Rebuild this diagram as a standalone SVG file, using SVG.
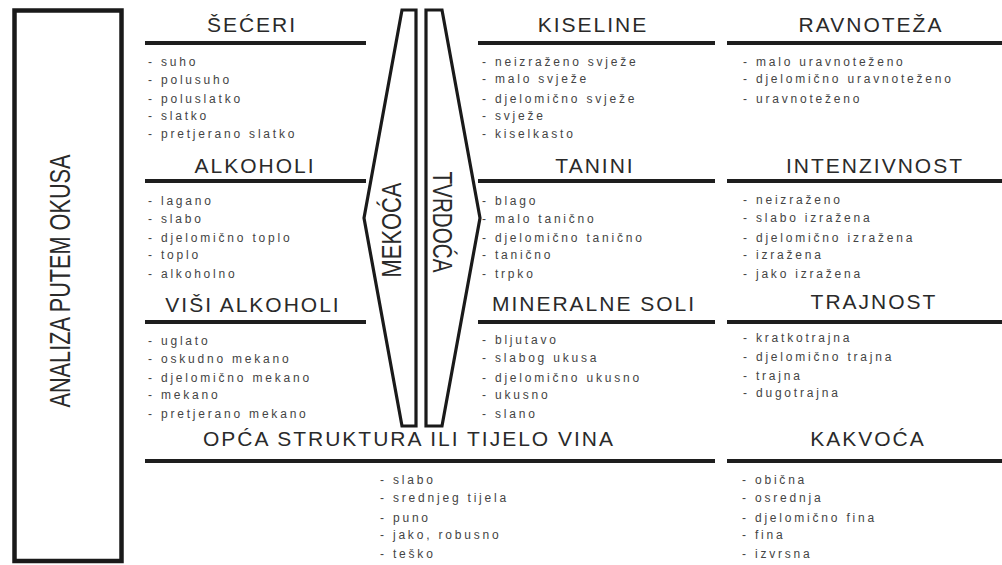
<svg xmlns="http://www.w3.org/2000/svg" width="1002" height="565" viewBox="0 0 1002 565">
<style>
.bg{fill:#fff}
.frame{fill:none;stroke:#1a1a1a;stroke-width:4.5}
.shape{fill:none;stroke:#1a1a1a;stroke-width:3.2;stroke-linejoin:miter}
.rule{stroke:#1e1e1e;stroke-width:4}
.h{font-family:"Liberation Sans",Arial,sans-serif;font-size:21px;letter-spacing:2px;fill:#2a2a2a;text-anchor:middle}
.li{font-family:"Liberation Sans",Arial,sans-serif;font-size:12px;letter-spacing:2.8px;fill:#444}
.v{font-family:"Liberation Sans",Arial,sans-serif;fill:#2a2a2a;text-anchor:middle}
</style>
<rect class="bg" x="0" y="0" width="1002" height="565"/>

<g id="analiza">
<rect class="frame" x="14.5" y="10.5" width="107" height="550.5"/>
<text class="v" font-size="29" transform="translate(70,281) rotate(-90)" textLength="253" lengthAdjust="spacingAndGlyphs">ANALIZA PUTEM OKUSA</text>
</g>

<g id="mekoca">
<path class="shape" d="M402,10 L416,10 L416,426 L402,426 L364,218 Z"/>
<text class="v" font-size="27" transform="translate(401,230) rotate(-90)" textLength="95" lengthAdjust="spacingAndGlyphs">MEKOĆA</text>
</g>

<g id="tvrdoca">
<path class="shape" d="M426,10 L442,10 L480,218 L442,426 L426,426 Z"/>
<text class="v" font-size="27" transform="translate(433,222) rotate(90)" textLength="101" lengthAdjust="spacingAndGlyphs">TVRDOĆA</text>
</g>

<g id="seceri">
<text class="h" x="252" y="32">ŠEĆERI</text>
<line class="rule" x1="145" y1="43" x2="366" y2="43"/>
<text class="li" x="148" y="66">- suho</text>
<text class="li" x="148" y="84">- polusuho</text>
<text class="li" x="148" y="103">- poluslatko</text>
<text class="li" x="148" y="120">- slatko</text>
<text class="li" x="148" y="138">- pretjerano slatko</text>
</g>

<g id="kiseline">
<text class="h" x="593" y="32">KISELINE</text>
<line class="rule" x1="478" y1="43" x2="715" y2="43"/>
<text class="li" x="482" y="66">- neizraženo svježe</text>
<text class="li" x="482" y="83">- malo svježe</text>
<text class="li" x="482" y="103">- djelomično svježe</text>
<text class="li" x="482" y="120">- svježe</text>
<text class="li" x="482" y="138">- kiselkasto</text>
</g>

<g id="ravnoteza">
<text class="h" x="871" y="32">RAVNOTEŽA</text>
<line class="rule" x1="727" y1="43" x2="1002" y2="43"/>
<text class="li" x="743" y="66">- malo uravnoteženo</text>
<text class="li" x="743" y="83">- djelomično uravnoteženo</text>
<text class="li" x="743" y="103">- uravnoteženo</text>
</g>

<g id="alkoholi">
<text class="h" x="255" y="173">ALKOHOLI</text>
<line class="rule" x1="145" y1="181" x2="366" y2="181"/>
<text class="li" x="148" y="205">- lagano</text>
<text class="li" x="148" y="223">- slabo</text>
<text class="li" x="148" y="242">- djelomično toplo</text>
<text class="li" x="148" y="259">- toplo</text>
<text class="li" x="148" y="278">- alkoholno</text>
</g>

<g id="tanini">
<text class="h" x="595" y="173">TANINI</text>
<line class="rule" x1="478" y1="181" x2="715" y2="181"/>
<text class="li" x="482" y="205">- blago</text>
<text class="li" x="482" y="223">- malo tanično</text>
<text class="li" x="482" y="242">- djelomično tanično</text>
<text class="li" x="482" y="259">- tanično</text>
<text class="li" x="482" y="278">- trpko</text>
</g>

<g id="intenzivnost">
<text class="h" x="875" y="173">INTENZIVNOST</text>
<line class="rule" x1="727" y1="181" x2="1002" y2="181"/>
<text class="li" x="743" y="204">- neizraženo</text>
<text class="li" x="743" y="222">- slabo izražena</text>
<text class="li" x="743" y="242">- djelomično izražena</text>
<text class="li" x="743" y="259">- izražena</text>
<text class="li" x="743" y="278">- jako izražena</text>
</g>

<g id="visi-alkoholi">
<text class="h" x="253" y="312">VIŠI ALKOHOLI</text>
<line class="rule" x1="145" y1="322" x2="366" y2="322"/>
<text class="li" x="148" y="345">- uglato</text>
<text class="li" x="148" y="363">- oskudno mekano</text>
<text class="li" x="148" y="382">- djelomično mekano</text>
<text class="li" x="148" y="399">- mekano</text>
<text class="li" x="148" y="418">- pretjerano mekano</text>
</g>

<g id="mineralne-soli">
<text class="h" x="594" y="311">MINERALNE SOLI</text>
<line class="rule" x1="478" y1="322" x2="715" y2="322"/>
<text class="li" x="482" y="344">- bljutavo</text>
<text class="li" x="482" y="362">- slabog ukusa</text>
<text class="li" x="482" y="382">- djelomično ukusno</text>
<text class="li" x="482" y="399">- ukusno</text>
<text class="li" x="482" y="418">- slano</text>
</g>

<g id="trajnost">
<text class="h" x="874" y="309">TRAJNOST</text>
<line class="rule" x1="727" y1="322" x2="1002" y2="322"/>
<text class="li" x="743" y="342">- kratkotrajna</text>
<text class="li" x="743" y="361">- djelomično trajna</text>
<text class="li" x="743" y="380">- trajna</text>
<text class="li" x="743" y="397">- dugotrajna</text>
</g>

<g id="struktura">
<text class="h" x="409" y="446">OPĆA STRUKTURA ILI TIJELO VINA</text>
<line class="rule" x1="145" y1="461" x2="715" y2="461"/>
<text class="li" x="380" y="484">- slabo</text>
<text class="li" x="380" y="502">- srednjeg tijela</text>
<text class="li" x="380" y="522">- puno</text>
<text class="li" x="380" y="539">- jako, robusno</text>
<text class="li" x="380" y="558">- teško</text>
</g>

<g id="kakvoca">
<text class="h" x="868" y="446">KAKVOĆA</text>
<line class="rule" x1="727" y1="461" x2="1002" y2="461"/>
<text class="li" x="742" y="484">- obična</text>
<text class="li" x="742" y="502">- osrednja</text>
<text class="li" x="742" y="522">- djelomično fina</text>
<text class="li" x="742" y="539">- fina</text>
<text class="li" x="742" y="558">- izvrsna</text>
</g>
</svg>
